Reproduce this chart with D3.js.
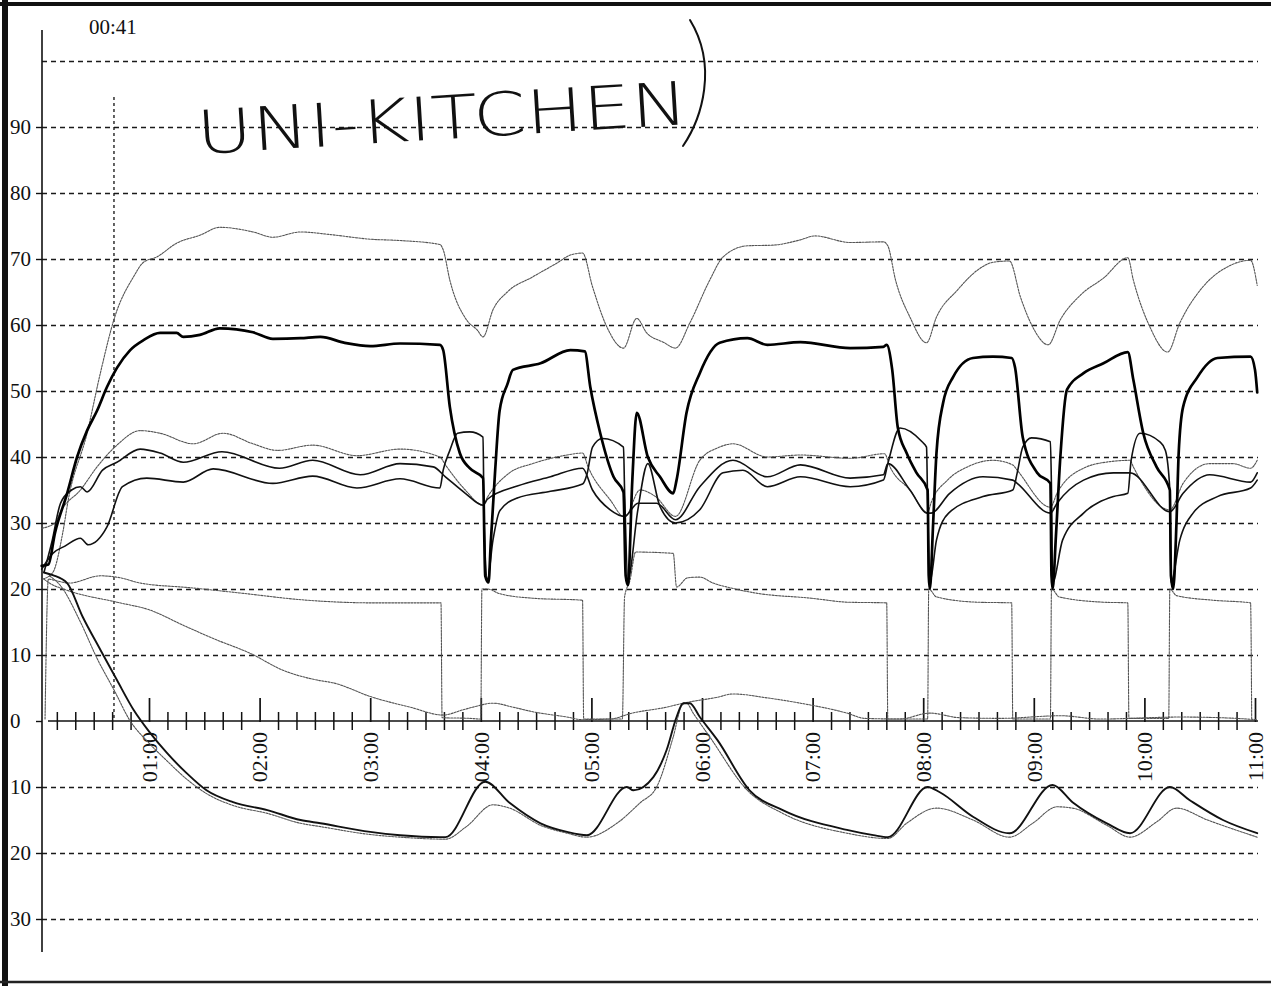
<!DOCTYPE html>
<html>
<head>
<meta charset="utf-8">
<script src="https://cdn.jsdelivr.net/npm/d3@7"></script>
<style>
  html, body { margin: 0; padding: 0; background: #fff; }
  svg { display: block; }
</style>
</head>
<body>
<svg id="chart" width="1271" height="986"></svg>
<script>
// ---- Logged probe temperatures: [hours since start, °C] ----
const probeA = [[0.04,21.5],[0.13,22.5],[0.22,28.5],[0.27,33.5],[0.44,43.6],[0.56,52.7],[0.69,61.2],[0.86,67.3],[0.95,69.5],[1.07,70.3],[1.25,72.4],[1.46,73.6],[1.64,74.8],[1.94,74.1],[2.12,73.3],[2.37,74.1],[2.64,73.7],[3.00,73.0],[3.27,72.8],[3.63,72.2],[3.66,71.4],[3.72,66.8],[3.87,60.8],[3.97,59.2],[4.02,58.2],[4.11,62.3],[4.24,65.0],[4.47,67.3],[4.69,69.4],[4.81,70.6],[4.92,70.9],[5.01,65.8],[5.14,59.7],[5.29,56.5],[5.41,61.0],[5.50,58.8],[5.65,57.4],[5.76,56.5],[5.89,60.3],[6.07,66.8],[6.19,70.3],[6.41,72.0],[6.64,72.1],[6.89,72.9],[7.02,73.5],[7.34,72.5],[7.64,72.6],[7.68,72.0],[7.75,66.8],[7.88,61.2],[8.03,57.3],[8.12,61.2],[8.31,65.3],[8.49,68.3],[8.63,69.5],[8.78,69.7],[8.88,64.2],[8.99,59.7],[9.13,57.0],[9.24,60.8],[9.42,64.5],[9.63,67.1],[9.85,70.2],[9.90,66.8],[10.05,59.7],[10.21,55.9],[10.32,60.3],[10.53,65.8],[10.75,68.8],[10.96,69.8],[11.02,66.0]];

const probeB = [[0.03,23.5],[0.09,23.7],[0.15,28.5],[0.26,34.5],[0.35,40.0],[0.44,44.0],[0.53,47.0],[0.62,50.6],[0.71,53.5],[0.83,56.2],[0.95,57.7],[1.10,58.8],[1.25,58.8],[1.31,58.2],[1.46,58.5],[1.64,59.5],[1.94,58.9],[2.12,57.9],[2.37,58.0],[2.55,58.2],[2.77,57.3],[3.00,56.8],[3.27,57.2],[3.63,57.0],[3.66,56.2],[3.72,47.6],[3.81,40.6],[3.90,38.3],[4.02,36.8],[4.04,22.0],[4.07,21.0],[4.09,27.0],[4.13,38.0],[4.17,47.0],[4.24,51.0],[4.29,53.2],[4.54,54.2],[4.81,56.2],[4.94,56.0],[4.99,50.6],[5.08,43.6],[5.20,37.0],[5.29,34.7],[5.31,22.0],[5.33,20.6],[5.37,36.5],[5.41,46.7],[5.51,40.0],[5.62,37.0],[5.74,34.5],[5.77,36.5],[5.86,46.7],[5.98,52.7],[6.16,57.3],[6.41,58.0],[6.59,57.0],[6.89,57.4],[7.34,56.5],[7.64,56.7],[7.67,57.0],[7.72,53.2],[7.77,44.5],[7.85,40.6],[7.94,37.6],[8.04,35.0],[8.05,22.0],[8.06,20.0],[8.09,30.0],[8.12,40.6],[8.18,48.2],[8.27,52.1],[8.45,55.0],[8.63,55.2],[8.80,55.0],[8.83,53.6],[8.90,43.0],[9.03,37.6],[9.15,36.0],[9.16,22.0],[9.17,20.0],[9.20,28.0],[9.24,40.0],[9.30,50.2],[9.45,52.7],[9.63,54.2],[9.85,55.9],[9.90,51.7],[9.99,43.6],[10.11,38.5],[10.23,35.0],[10.24,22.0],[10.26,20.0],[10.29,30.0],[10.31,40.6],[10.35,47.6],[10.48,52.1],[10.66,55.0],[10.96,55.2],[11.00,53.2],[11.02,49.8]];

const probeC = [[0.03,29.2],[0.15,30.0],[0.21,32.0],[0.38,35.0],[0.53,38.5],[0.71,41.8],[0.92,44.0],[1.10,43.6],[1.40,42.0],[1.67,43.6],[1.94,42.0],[2.16,41.0],[2.48,41.8],[2.88,40.2],[3.27,41.2],[3.63,40.0],[3.68,38.8],[3.86,35.0],[4.02,32.7],[4.06,33.9],[4.26,37.6],[4.47,39.0],[4.78,40.3],[4.92,40.6],[4.97,38.5],[5.17,33.5],[5.30,30.9],[5.44,35.0],[5.58,34.0],[5.76,31.0],[5.98,39.5],[6.16,41.5],[6.28,42.0],[6.59,40.0],[6.89,40.3],[7.34,39.8],[7.65,40.5],[7.70,38.5],[7.88,35.0],[8.04,31.5],[8.07,33.0],[8.22,36.5],[8.40,38.5],[8.63,39.5],[8.81,38.8],[8.85,38.0],[9.15,32.4],[9.21,34.5],[9.45,38.3],[9.69,39.3],[9.87,39.5],[9.90,38.5],[10.23,32.0],[10.35,36.0],[10.59,39.0],[10.80,39.0],[10.96,38.3],[11.02,39.5]];

const probeD = [[0.05,22.5],[0.12,27.0],[0.20,33.0],[0.30,35.0],[0.38,35.5],[0.44,34.7],[0.58,38.0],[0.71,39.2],[0.92,41.2],[1.10,40.6],[1.31,39.2],[1.66,40.8],[2.18,38.3],[2.48,39.5],[2.91,37.3],[3.27,39.0],[3.57,38.5],[3.68,37.0],[3.86,34.5],[4.02,32.7],[4.06,33.6],[4.33,35.6],[4.63,37.0],[4.92,38.3],[5.01,35.0],[5.17,32.0],[5.30,31.0],[5.42,33.0],[5.59,33.0],[5.76,30.5],[5.98,35.5],[6.28,39.5],[6.59,37.0],[6.89,38.8],[7.34,36.8],[7.64,37.3],[7.68,39.0],[7.88,35.0],[8.04,31.5],[8.07,31.5],[8.24,34.5],[8.54,37.0],[8.81,36.5],[8.85,36.0],[9.15,31.5],[9.21,33.0],[9.45,36.5],[9.72,37.6],[9.87,37.6],[10.23,31.7],[10.35,34.5],[10.59,37.3],[10.96,36.2],[11.02,37.6]];

const probeE = [[0.03,23.0],[0.13,25.4],[0.24,26.5],[0.38,27.7],[0.45,26.7],[0.62,29.4],[0.76,35.5],[0.98,36.8],[1.31,36.2],[1.58,38.2],[2.12,36.0],[2.48,37.1],[2.88,35.3],[3.27,36.7],[3.63,35.3],[3.66,38.0],[3.72,41.0],[3.79,43.6],[3.90,43.8],[4.02,43.0],[4.03,30.0],[4.06,21.5],[4.11,27.4],[4.17,31.8],[4.33,33.8],[4.63,34.8],[4.92,35.9],[4.96,37.4],[5.01,41.5],[5.10,42.8],[5.29,41.5],[5.30,35.0],[5.33,21.5],[5.42,32.0],[5.51,39.0],[5.62,32.5],[5.76,30.0],[5.98,32.0],[6.19,37.6],[6.37,38.0],[6.59,35.5],[6.89,37.0],[7.34,35.5],[7.64,36.5],[7.68,39.0],[7.79,44.4],[7.99,42.3],[8.03,41.5],[8.04,33.0],[8.06,21.0],[8.12,27.4],[8.23,31.5],[8.54,34.0],[8.81,35.0],[8.85,37.6],[8.90,41.5],[8.98,42.9],[9.15,42.3],[9.16,35.0],[9.17,21.0],[9.26,27.4],[9.45,31.5],[9.72,34.0],[9.85,34.5],[9.88,39.5],[9.96,43.6],[10.14,42.3],[10.19,41.0],[10.23,35.0],[10.24,21.0],[10.32,27.4],[10.44,31.5],[10.66,34.0],[10.96,35.3],[11.02,36.5]];

const probeF = [[0.06,0.3],[0.09,21.5],[0.15,21.3],[0.28,20.9],[0.56,22.0],[0.74,21.7],[0.92,20.9],[1.37,20.2],[1.82,19.4],[2.43,18.3],[3.02,17.9],[3.64,17.9],[3.65,0.5],[3.90,0.4],[4.00,0.3],[4.01,20.0],[4.06,20.0],[4.17,19.3],[4.47,18.6],[4.92,18.3],[4.93,0.3],[5.28,0.3],[5.30,18.8],[5.35,21.4],[5.40,25.6],[5.74,25.4],[5.77,20.3],[5.87,21.7],[5.98,21.8],[6.10,20.9],[6.25,20.2],[6.48,19.4],[6.99,18.6],[7.32,18.0],[7.67,17.9],[7.68,0.3],[8.04,0.3],[8.05,20.0],[8.12,18.8],[8.49,18.0],[8.80,17.9],[8.81,0.3],[9.15,0.3],[9.16,20.0],[9.23,18.8],[9.63,18.0],[9.85,17.9],[9.86,0.4],[10.22,0.4],[10.23,20.0],[10.29,19.0],[10.62,18.3],[10.96,17.9],[10.97,0.3]];

const probeG = [[0.05,21.5],[0.10,20.9],[0.26,19.8],[0.71,18.0],[1.01,16.8],[1.31,14.5],[1.61,12.3],[1.91,10.3],[2.21,7.7],[2.52,6.2],[2.66,5.8],[3.02,3.6],[3.36,2.1],[3.66,0.9],[3.84,1.7],[3.93,2.1],[4.11,2.7],[4.29,2.1],[4.47,1.4],[4.78,0.6],[4.92,0.2],[5.17,0.3],[5.37,1.2],[5.68,2.1],[5.83,2.7],[6.14,3.6],[6.28,4.1],[6.59,3.5],[6.89,2.7],[7.31,1.2],[7.47,0.4],[7.79,0.3],[8.06,1.2],[8.33,0.5],[8.70,0.4],[9.24,0.8],[9.60,0.3],[10.32,0.6],[10.69,0.5],[11.02,0.2]];

const probeH = [[0.05,22.5],[0.13,22.1],[0.26,20.9],[0.40,15.8],[0.56,10.8],[0.71,6.2],[0.86,1.7],[1.01,-1.8],[1.16,-4.8],[1.34,-7.9],[1.52,-10.5],[1.76,-12.3],[2.07,-13.5],[2.37,-15.0],[2.55,-15.5],[3.00,-16.8],[3.27,-17.3],[3.63,-17.6],[3.68,-17.6],[4.04,-9.2],[4.26,-12.4],[4.54,-15.5],[4.78,-16.8],[4.96,-17.3],[5.32,-10.0],[5.38,-10.5],[5.56,-8.5],[5.68,-4.4],[5.77,0.6],[5.83,2.7],[5.89,2.7],[5.98,0.6],[6.14,-2.9],[6.43,-10.5],[6.73,-13.5],[7.31,-16.5],[7.55,-17.3],[7.68,-17.6],[8.04,-10.0],[8.15,-10.8],[8.45,-14.5],[8.78,-17.0],[9.17,-9.7],[9.35,-12.3],[9.66,-15.5],[9.87,-17.0],[10.23,-10.0],[10.41,-12.0],[10.71,-15.0],[11.02,-17.0]];

const probeI = [[0.10,22.0],[0.20,20.5],[0.38,15.0],[0.53,9.5],[0.69,4.5],[0.83,0.0],[0.98,-3.0],[1.16,-6.0],[1.34,-8.8],[1.52,-11.0],[1.76,-12.8],[2.07,-14.0],[2.37,-15.5],[2.55,-16.0],[3.00,-17.2],[3.27,-17.6],[3.68,-17.9],[3.87,-16.0],[4.11,-12.7],[4.26,-13.2],[4.54,-15.8],[4.78,-17.0],[4.96,-17.6],[5.23,-15.5],[5.44,-12.4],[5.59,-10.0],[5.74,-2.4],[5.82,2.4],[5.86,2.7],[5.92,1.2],[6.07,-2.4],[6.41,-10.5],[6.73,-14.0],[7.31,-17.0],[7.68,-17.8],[7.85,-15.5],[8.12,-13.2],[8.45,-15.0],[8.78,-17.6],[8.99,-15.5],[9.21,-13.0],[9.35,-13.2],[9.66,-15.8],[9.87,-17.6],[10.11,-15.3],[10.29,-13.2],[10.57,-15.0],[11.02,-17.6]];

// ---- Axis text ----
const yGridValues = [100, 90, 80, 70, 60, 50, 40, 30, 20, 10, -10, -20, -30];
const yLabelValues = [90, 80, 70, 60, 50, 40, 30, 20, 10, 0, -10, -20, -30];
const yLabelTexts = ["90", "80", "70", "60", "50", "40", "30", "20", "10", "0", "10", "20", "30"];
const hourValues = [1, 2, 3, 4, 5, 6, 7, 8, 9, 10, 11];
const hourLabels = ["01:00", "02:00", "03:00", "04:00", "05:00", "06:00", "07:00", "08:00", "09:00", "10:00", "11:00"];
const cursorHours = 41 / 60;
const cursorLabel = "00:41";
const noteText = "UNI-KITCHEN";

// ---- Layout ----
const W = 1271, H = 986;
const svg = d3.select("#chart");
svg.append("rect").attr("width", W).attr("height", H).attr("fill", "#fff");

const x = d3.scaleLinear().domain([0, 11]).range([38.4, 1255]);
const y = d3.scaleLinear().domain([-35, 100]).range([952, 61]);

const axisX = 42;          // vertical axis position
const gridRight = 1258;    // right end of the grid
const serif = "'Liberation Serif', 'Times New Roman', serif";

// Dashed horizontal grid
const grid = svg.append("g")
  .attr("transform", `translate(${axisX},0)`)
  .call(d3.axisLeft(y).tickValues(yGridValues).tickSize(-(gridRight - axisX)).tickFormat(""));
grid.select(".domain").remove();
grid.selectAll(".tick line")
  .attr("stroke", "#1a1a1a").attr("stroke-width", 1.3).attr("stroke-dasharray", "5,4");

// Short ticks left of the vertical axis
const yTicks = svg.append("g")
  .attr("transform", `translate(${axisX},0)`)
  .call(d3.axisLeft(y).tickValues(yLabelValues).tickSize(6).tickFormat(""));
yTicks.select(".domain").remove();
yTicks.selectAll(".tick line").attr("stroke", "#111").attr("stroke-width", 1.4);

// Vertical axis line
svg.append("line")
  .attr("x1", axisX).attr("x2", axisX)
  .attr("y1", 30).attr("y2", y(-35))
  .attr("stroke", "#111").attr("stroke-width", 1.6);

// Y labels
svg.append("g").selectAll("text")
  .data(yLabelValues)
  .join("text")
  .attr("x", 10)
  .attr("y", d => y(d))
  .attr("dy", "0.35em")
  .attr("font-family", serif)
  .attr("font-size", 21)
  .attr("fill", "#111")
  .text((d, i) => yLabelTexts[i]);

// Time axis at 0 °C
const y0 = y(0);
svg.append("line")
  .attr("x1", 48).attr("x2", gridRight)
  .attr("y1", y0).attr("y2", y0)
  .attr("stroke", "#111").attr("stroke-width", 1.6);

const minorTicks = d3.range(1, 66).map(i => i / 6).filter(t => Math.abs(t - Math.round(t)) > 1e-6);
const minorAxis = svg.append("g")
  .attr("transform", `translate(0,${y0 - 9})`)
  .call(d3.axisBottom(x).tickValues(minorTicks).tickSize(18).tickSizeOuter(0).tickFormat(""));
minorAxis.select(".domain").remove();
minorAxis.selectAll(".tick line").attr("stroke", "#111").attr("stroke-width", 1.5);

const hourAxis = svg.append("g")
  .attr("transform", `translate(0,${y0 + 1})`)
  .call(d3.axisTop(x).tickValues(hourValues).tickSize(24).tickSizeOuter(0).tickFormat(""));
hourAxis.select(".domain").remove();
hourAxis.selectAll(".tick line").attr("stroke", "#111").attr("stroke-width", 1.7);

// Rotated hour labels
svg.append("g").selectAll("text")
  .data(hourValues)
  .join("text")
  .attr("transform", d => `translate(${x(d)},${y0 + 11}) rotate(-90)`)
  .attr("text-anchor", "end")
  .attr("dy", "0.35em")
  .attr("font-family", serif)
  .attr("font-size", 22)
  .attr("fill", "#111")
  .text((d, i) => hourLabels[i]);

// Cursor line with its time stamp
svg.append("line")
  .attr("x1", x(cursorHours)).attr("x2", x(cursorHours))
  .attr("y1", 97).attr("y2", y0)
  .attr("stroke", "#111").attr("stroke-width", 1.3).attr("stroke-dasharray", "3,3");
svg.append("text")
  .attr("x", 89).attr("y", 34)
  .attr("font-family", serif).attr("font-size", 21).attr("fill", "#111")
  .text(cursorLabel);

// Probe traces
const line = d3.line().x(d => x(d[0])).y(d => y(d[1])).curve(d3.curveMonotoneX);
const traces = [
  { data: probeF, color: "#555", width: 1.1, dash: "2,1.2" },
  { data: probeG, color: "#555", width: 1.1, dash: "2,1.2" },
  { data: probeI, color: "#555", width: 1.1, dash: "2,1.2" },
  { data: probeA, color: "#555", width: 1.1, dash: "2,1.2" },
  { data: probeC, color: "#555", width: 1.1, dash: "2,1.2" },
  { data: probeH, color: "#111", width: 1.9, dash: null },
  { data: probeD, color: "#111", width: 1.6, dash: null },
  { data: probeE, color: "#111", width: 1.6, dash: null },
  { data: probeB, color: "#000", width: 2.7, dash: null }
];
svg.append("g").selectAll("path")
  .data(traces)
  .join("path")
  .attr("d", d => line(d.data))
  .attr("fill", "none")
  .attr("stroke", d => d.color)
  .attr("stroke-width", d => d.width)
  .attr("stroke-dasharray", d => d.dash)
  .attr("stroke-linejoin", "round")
  .attr("stroke-linecap", "round");

// Handwritten note
svg.append("text")
  .attr("x", 198).attr("y", 154)
  .attr("transform", "rotate(-3.5,198,154)")
  .attr("font-family", "'DejaVu Sans ExtraLight', 'DejaVu Sans', sans-serif")
  .attr("font-weight", 200)
  .attr("font-size", 60)
  .attr("textLength", 492)
  .attr("lengthAdjust", "spacingAndGlyphs")
  .attr("fill", "#111")
  .text(noteText);
svg.append("path")
  .attr("d", "M683,146 C702,118 718,66 690,20")
  .attr("fill", "none").attr("stroke", "#111").attr("stroke-width", 2).attr("stroke-linecap", "round");

// Page frame
svg.append("line").attr("x1", 0).attr("x2", W).attr("y1", 4).attr("y2", 4).attr("stroke", "#111").attr("stroke-width", 4);
svg.append("line").attr("x1", 5).attr("x2", 5).attr("y1", 0).attr("y2", H).attr("stroke", "#111").attr("stroke-width", 6);
svg.append("line").attr("x1", 0).attr("x2", W).attr("y1", 982).attr("y2", 982).attr("stroke", "#222").attr("stroke-width", 2.5);
</script>
</body>
</html>
